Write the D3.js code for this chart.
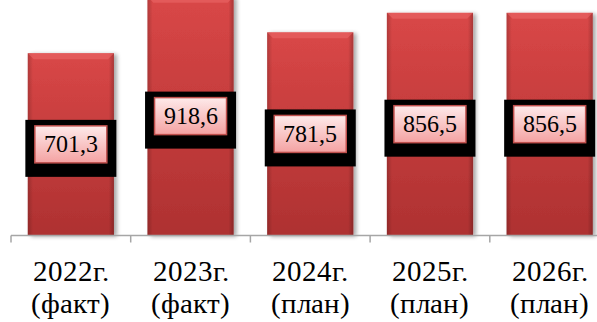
<!DOCTYPE html>
<html>
<head>
<meta charset="utf-8">
<script src="https://cdn.jsdelivr.net/npm/d3@7"></script>
<style>
  @font-face {
    font-family: "ChartSerif";
    src: local("Liberation Serif"), local("LiberationSerif"), local("LiberationSerif-Regular"), local("Times New Roman");
  }
</style>
</head>
<body style="margin:0">
<script>
let width = 597;
let height = 322;
let serif = "ChartSerif, 'Liberation Serif', 'Times New Roman', 'DejaVu Serif', serif";

// data
let years = ["2022г.", "2023г.", "2024г.", "2025г.", "2026г."];
let notes = ["(факт)", "(факт)", "(план)", "(план)", "(план)"];
let values = [701.3, 918.6, 781.5, 856.5, 856.5];
let valueLabels = ["701,3", "918,6", "781,5", "856,5", "856,5"];

let svg = d3.select("body")
  .append("svg")
  .attr("width", width)
  .attr("height", height)
  .style("display", "block")
  .style("font-family", serif);

let defs = svg.append("defs");

let barGrad = defs.append("linearGradient")
  .attr("id", "barGrad").attr("x1", 0).attr("y1", 0).attr("x2", 0).attr("y2", 1);
barGrad.append("stop").attr("offset", "0%").attr("stop-color", "#d94747");
barGrad.append("stop").attr("offset", "100%").attr("stop-color", "#ae3131");

let sideGrad = defs.append("linearGradient")
  .attr("id", "sideGrad").attr("x1", 0).attr("y1", 0).attr("x2", 1).attr("y2", 0);
sideGrad.append("stop").attr("offset", "0%").attr("stop-color", "#000").attr("stop-opacity", 0.18);
sideGrad.append("stop").attr("offset", "6%").attr("stop-color", "#000").attr("stop-opacity", 0);
sideGrad.append("stop").attr("offset", "94%").attr("stop-color", "#000").attr("stop-opacity", 0);
sideGrad.append("stop").attr("offset", "100%").attr("stop-color", "#000").attr("stop-opacity", 0.22);

let labelGrad = defs.append("linearGradient")
  .attr("id", "labelGrad").attr("x1", 0).attr("y1", 0).attr("x2", 0).attr("y2", 1);
labelGrad.append("stop").attr("offset", "0%").attr("stop-color", "#feeaea");
labelGrad.append("stop").attr("offset", "100%").attr("stop-color", "#f4a2a2");

let shadow = defs.append("filter").attr("id", "shadow")
  .attr("x", "-10%").attr("y", "-10%").attr("width", "130%").attr("height", "120%");
shadow.append("feGaussianBlur").attr("in", "SourceAlpha").attr("stdDeviation", 2);
shadow.append("feOffset").attr("dx", 3).attr("dy", 1).attr("result", "b");
shadow.append("feComponentTransfer").append("feFuncA").attr("type", "linear").attr("slope", 0.35);
let merge = shadow.append("feMerge");
merge.append("feMergeNode");
merge.append("feMergeNode").attr("in", "SourceGraphic");

// scales
let x = d3.scaleBand().domain(years).range([11, 609.5]).padding(0);
let y = d3.scaleLinear().domain([0, 906]).range([235.5, 0]);
let barW = x.bandwidth() * 0.72;

// bars
let bars = svg.append("g")
  .selectAll("g")
  .data(values)
  .enter()
  .append("g");

bars.append("rect")
  .attr("x", (d, i) => x(years[i]) + (x.bandwidth() - barW) / 2)
  .attr("y", d => y(d))
  .attr("width", barW)
  .attr("height", d => y(0) - y(d))
  .attr("fill", "url(#barGrad)")
  .attr("filter", "url(#shadow)");

bars.append("rect")
  .attr("x", (d, i) => x(years[i]) + (x.bandwidth() - barW) / 2)
  .attr("y", d => y(d))
  .attr("width", barW)
  .attr("height", d => y(0) - y(d))
  .attr("fill", "url(#sideGrad)");

// top bevel
bars.append("path")
  .attr("d", function(d, i) {
    let x0 = x(years[i]) + (x.bandwidth() - barW) / 2;
    let x1 = x0 + barW;
    let t = y(d);
    return "M" + x0 + "," + t + "L" + x1 + "," + t + "L" + (x1 - 6) + "," + (t + 6) +
      "L" + (x0 + 6) + "," + (t + 6) + "Z";
  })
  .attr("fill", "#ec6a6a")
  .attr("opacity", 0.55);

// axis
let axis = svg.append("g").attr("stroke", "#a6a6a6").attr("stroke-width", 1.5);
axis.append("line")
  .attr("x1", 11).attr("x2", width)
  .attr("y1", y(0)).attr("y2", y(0));
axis.selectAll("line.tick")
  .data(years)
  .enter()
  .append("line")
  .attr("class", "tick")
  .attr("x1", d => x(d)).attr("x2", d => x(d))
  .attr("y1", y(0)).attr("y2", y(0) + 7);

// value labels
let labels = svg.append("g")
  .selectAll("g")
  .data(values)
  .enter()
  .append("g")
  .attr("transform", (d, i) => "translate(" + (x(years[i]) + x.bandwidth() / 2) + "," + ((y(d) + y(0)) / 2) + ")");

labels.append("rect")
  .attr("x", -45.5).attr("y", -24.5)
  .attr("width", 91).attr("height", 57)
  .attr("fill", "#000");

labels.append("rect")
  .attr("x", -36).attr("y", -18.5)
  .attr("width", 72).attr("height", 37)
  .attr("fill", "url(#labelGrad)")
  .attr("stroke", "#c0504d")
  .attr("stroke-width", 1.5);

labels.append("text")
  .attr("x", 0)
  .attr("y", 8)
  .attr("text-anchor", "middle")
  .style("font-family", serif)
  .attr("font-size", 23.5)
  .attr("fill", "#000")
  .text((d, i) => valueLabels[i]);

// category labels
svg.selectAll("text.year")
  .data(years)
  .enter()
  .append("text")
  .attr("class", "year")
  .attr("x", d => x(d) + x.bandwidth() / 2)
  .attr("y", 281)
  .attr("text-anchor", "middle")
  .style("font-family", serif)
  .attr("font-size", 29)
  .text(d => d);

svg.selectAll("text.note")
  .data(notes)
  .enter()
  .append("text")
  .attr("class", "note")
  .attr("x", (d, i) => x(years[i]) + x.bandwidth() / 2)
  .attr("y", 313)
  .attr("text-anchor", "middle")
  .style("font-family", serif)
  .attr("font-size", 29)
  .text(d => d);
</script>
</body>
</html>
